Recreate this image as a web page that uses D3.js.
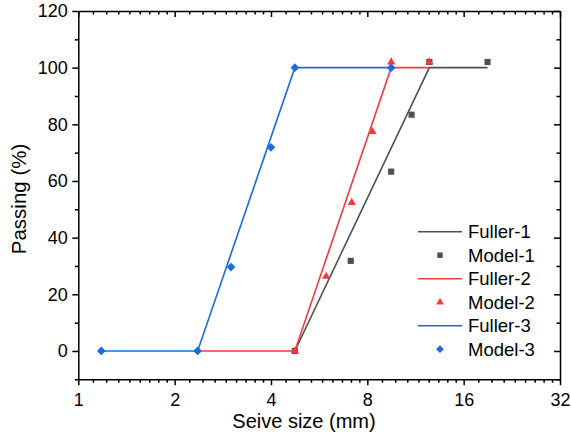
<!DOCTYPE html>
<html>
<head>
<meta charset="utf-8">
<script src="https://cdn.jsdelivr.net/npm/d3@7"></script>
<style>
  body { margin: 0; background: #fff; }
  text { font-family: "Liberation Sans", Arial, sans-serif; }
</style>
</head>
<body>
<div id="chart"></div>
<script>
// data
const xTicks = [1, 2, 4, 8, 16, 32];
const yTicks = [0, 20, 40, 60, 80, 100, 120];

const fuller1X = [4.75, 12.5, 19];
const fuller1Y = [0, 100, 100];
const model1X = [4.75, 7.1, 9.5, 11, 12.5, 19];
const model1Y = [0, 31.8, 63.3, 83.4, 102, 102];

const fuller2X = [2.36, 4.75, 9.5, 12.5];
const fuller2Y = [0, 0, 100, 100];
const model2X = [4.75, 5.95, 7.15, 8.3, 9.5, 12.5];
const model2Y = [0, 26.3, 52.4, 77.4, 102, 102];

const fuller3X = [1.18, 2.36, 4.75, 9.5];
const fuller3Y = [0, 0, 100, 100];
const model3X = [1.18, 2.36, 3, 4, 4.75, 9.5];
const model3Y = [0, 0, 29.6, 71.9, 100, 100];

const series = [
  { name: "1", color: "#505050", symbol: "square", lx: fuller1X, ly: fuller1Y, mx: model1X, my: model1Y },
  { name: "2", color: "#f43a3e", symbol: "triangle", lx: fuller2X, ly: fuller2Y, mx: model2X, my: model2Y },
  { name: "3", color: "#1c6ae0", symbol: "diamond", lx: fuller3X, ly: fuller3Y, mx: model3X, my: model3Y }
];

const width = 571, height = 436;
const plotLeft = 78.3, plotRight = 560, plotTop = 11, plotBottom = 379.3;

const svg = d3.select("#chart").append("svg")
  .attr("width", width)
  .attr("height", height);

const x = d3.scaleLog().base(2).domain([1, 32]).range([plotLeft, plotRight]);
const y = d3.scaleLinear().domain([-10, 120]).range([plotBottom, plotTop]);

// minor ticks: linear ninths inside each octave
const xMinor = [];
for (let i = 0; i < xTicks.length - 1; i++) {
  for (let k = 1; k <= 8; k++) xMinor.push(xTicks[i] * (1 + k / 9));
}
const yMinor = d3.range(-10, 121, 10).filter(v => v % 20 !== 0);

function styleAxis(g) {
  g.selectAll("path.domain").attr("stroke", "#000").attr("stroke-width", 1.5);
  g.selectAll(".tick line").attr("stroke", "#000").attr("stroke-width", 1.5);
  g.selectAll(".tick text").attr("font-size", 18).attr("fill", "#000")
    .attr("font-family", "'Liberation Sans', Arial, sans-serif");
}

// bottom
svg.append("g").attr("transform", `translate(0,${plotBottom})`)
  .call(d3.axisBottom(x).tickValues(xTicks).tickFormat(d3.format("d")).tickSize(6).tickSizeOuter(0).tickPadding(7.5))
  .call(styleAxis);
svg.append("g").attr("transform", `translate(0,${plotBottom})`)
  .call(d3.axisBottom(x).tickValues(xMinor).tickFormat("").tickSize(3.5).tickSizeOuter(0))
  .call(styleAxis).select("path.domain").remove();

// top (ticks inward)
svg.append("g").attr("transform", `translate(0,${plotTop})`)
  .call(d3.axisBottom(x).tickValues(xTicks).tickFormat("").tickSize(6).tickSizeOuter(0))
  .call(styleAxis);
svg.append("g").attr("transform", `translate(0,${plotTop})`)
  .call(d3.axisBottom(x).tickValues(xMinor).tickFormat("").tickSize(3.5).tickSizeOuter(0))
  .call(styleAxis).select("path.domain").remove();

// left
svg.append("g").attr("transform", `translate(${plotLeft},0)`)
  .call(d3.axisLeft(y).tickValues(yTicks).tickFormat(d3.format("d")).tickSize(6).tickSizeOuter(0).tickPadding(4.5))
  .call(styleAxis);
svg.append("g").attr("transform", `translate(${plotLeft},0)`)
  .call(d3.axisLeft(y).tickValues(yMinor).tickFormat("").tickSize(3.5).tickSizeOuter(0))
  .call(styleAxis).select("path.domain").remove();

// right (ticks inward)
svg.append("g").attr("transform", `translate(${plotRight},0)`)
  .call(d3.axisLeft(y).tickValues(yTicks).tickFormat("").tickSize(6).tickSizeOuter(0))
  .call(styleAxis);
svg.append("g").attr("transform", `translate(${plotRight},0)`)
  .call(d3.axisLeft(y).tickValues(yMinor).tickFormat("").tickSize(3.5).tickSizeOuter(0))
  .call(styleAxis).select("path.domain").remove();

// axis titles
svg.append("text")
  .attr("x", 304)
  .attr("y", 428)
  .attr("text-anchor", "middle")
  .attr("font-size", 20)
  .text("Seive size (mm)");

svg.append("text")
  .attr("transform", "translate(26,199) rotate(-90)")
  .attr("text-anchor", "middle")
  .attr("font-size", 20.5)
  .text("Passing (%)");

function symbolPath(type, size) {
  if (type === "triangle") return d3.symbol(d3.symbolTriangle, size)();
  return d3.symbol(d3.symbolSquare, size)();
}
function symbolRotate(type) {
  return type === "diamond" ? " rotate(45)" : "";
}

const line = d3.line().x(d => x(d[0])).y(d => y(d[1]));

series.forEach(s => {
  svg.append("path")
    .datum(s.lx.map((v, i) => [v, s.ly[i]]))
    .attr("fill", "none")
    .attr("stroke", s.color)
    .attr("stroke-width", 1.6)
    .attr("d", line);

  svg.selectAll(null)
    .data(s.mx.map((v, i) => [v, s.my[i]]))
    .enter().append("path")
    .attr("transform", d => `translate(${x(d[0])},${y(d[1])})` + symbolRotate(s.symbol))
    .attr("d", symbolPath(s.symbol, s.symbol === "triangle" ? 30 : 38))
    .attr("fill", s.color);
});

// legend
const legend = svg.append("g");
const legendY0 = 231.7, legendStep = 23.5;
series.forEach((s, i) => {
  const yl = legendY0 + i * 2 * legendStep;
  legend.append("line")
    .attr("x1", 418).attr("x2", 462)
    .attr("y1", yl).attr("y2", yl)
    .attr("stroke", s.color).attr("stroke-width", 1.6);
  legend.append("text")
    .attr("x", 468).attr("y", yl + 6.5)
    .attr("font-size", 18.5)
    .text("Fuller-" + s.name);

  const ym = yl + legendStep;
  legend.append("path")
    .attr("transform", `translate(440,${ym})` + symbolRotate(s.symbol))
    .attr("d", symbolPath(s.symbol, s.symbol === "triangle" ? 26 : 30))
    .attr("fill", s.color);
  legend.append("text")
    .attr("x", 468).attr("y", ym + 6.5)
    .attr("font-size", 18.5)
    .text("Model-" + s.name);
});
</script>
</body>
</html>
